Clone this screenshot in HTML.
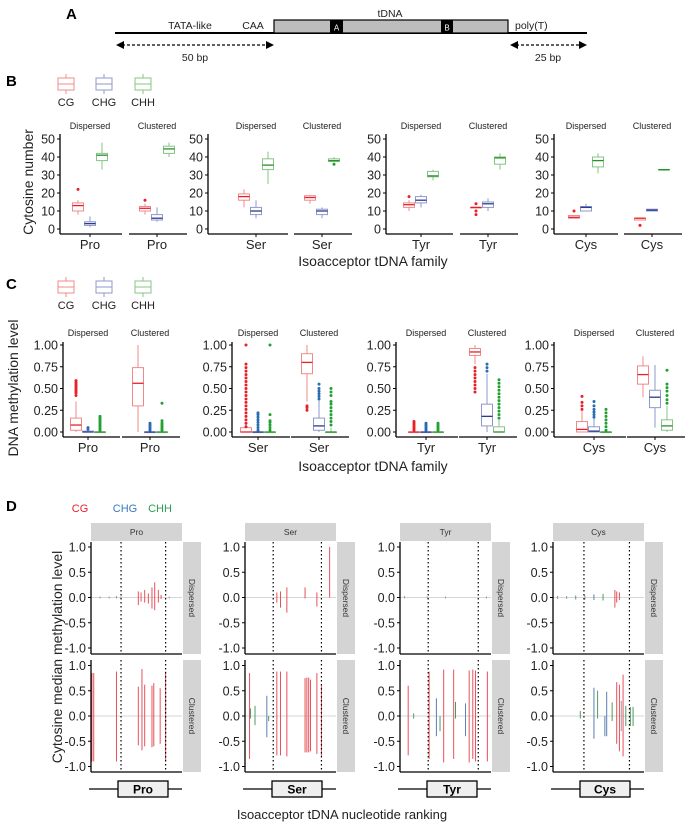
<!DOCTYPE html>
<html><head><meta charset="utf-8"><style>
html,body{margin:0;padding:0;background:#fff}
svg{display:block;font-family:"Liberation Sans",sans-serif}
</style></head><body>
<svg id="fig" width="685" height="824" viewBox="0 0 685 824" xmlns="http://www.w3.org/2000/svg">
<g>
<text x="66" y="19" font-size="15" font-weight="bold">A</text>
<line x1="115" y1="33" x2="587" y2="33" stroke="#000" stroke-width="2"/>
<rect x="274" y="20" width="234" height="13" fill="#bdbdbd" stroke="#000" stroke-width="1.2"/>
<rect x="330" y="20" width="13" height="13" fill="#000"/>
<text x="336.5" y="30.5" font-size="8" fill="#fff" text-anchor="middle">A</text>
<rect x="441" y="20" width="12" height="13" fill="#000"/>
<text x="447" y="30.5" font-size="8" fill="#fff" text-anchor="middle">B</text>
<text x="390" y="17" font-size="10.5" text-anchor="middle" fill="#222">tDNA</text>
<text x="190" y="29" font-size="10.5" text-anchor="middle" fill="#222">TATA-like</text>
<text x="253" y="29" font-size="10.5" text-anchor="middle" fill="#222">CAA</text>
<text x="515" y="29" font-size="10.5" fill="#222">poly(T)</text>
<line x1="122" y1="45" x2="268" y2="45" stroke="#000" stroke-width="1.2" stroke-dasharray="3,2"/>
<polygon points="116,45 124,41 124,49" fill="#000"/>
<polygon points="274,45 266,41 266,49" fill="#000"/>
<text x="195" y="61" font-size="10.5" text-anchor="middle" fill="#222">50 bp</text>
<line x1="516" y1="45" x2="581" y2="45" stroke="#000" stroke-width="1.2" stroke-dasharray="3,2"/>
<polygon points="510,45 518,41 518,49" fill="#000"/>
<polygon points="587,45 579,41 579,49" fill="#000"/>
<text x="548" y="61" font-size="10.5" text-anchor="middle" fill="#222">25 bp</text>
</g>
<text x="6" y="86" font-size="15" font-weight="bold">B</text>
<text x="6" y="289" font-size="15" font-weight="bold">C</text>
<text x="6" y="511" font-size="15" font-weight="bold">D</text>
<g id="gB"></g>
<g id="gC"></g>
<g id="gD"></g>
</svg>
<script>
// ---------- data ----------
const families = ["Pro","Ser","Tyr","Cys"];
const panes = ["Dispersed","Clustered"];
const contexts = ["CG","CHG","CHH"];
const ticksB = [0,10,20,30,40,50];
const ticksBLabels = ["0","10","20","30","40","50"];
const ticksC = [0,0.25,0.5,0.75,1.0];
const ticksCLabels = ["0.00","0.25","0.50","0.75","1.00"];
const ticksD = [-1,-0.5,0,0.5,1];
const ticksDLabels = ["-1.0","-0.5","0.0","0.5","1.0"];
// Panel B: order family x pane x context
const bLow  = [8,1,33, 8,4,40, 12,6,25, 14,6,37, 10,12,27, 12,10,33, 6,10,31, 5,10,33];
const bQ1   = [10,2,38, 10,5,42, 16,8,33, 16,8,37.5, 12,14.5,29, 12,12,36, 6,10,34.5, 5,10,33];
const bMed  = [13,3,41, 11.5,6,44.5, 18,10,35.5, 17.5,10,38, 13.5,16,29.5, 12,14,39.5, 6.5,12,38, 6,10.5,33];
const bQ3   = [14.5,4,42, 12.5,8,46, 19.5,12,39, 18.5,11,39, 14.5,18,32, 12,15,40, 7.5,12.5,40, 6,11,33];
const bHigh = [16,7,48, 14,12,48, 22,16,43, 19,12,40, 16,19,33, 12,17,42, 7.5,14,42, 6,11,33];
const bOut  = [[22],[],[], [16],[],[], [],[],[], [],[],[36], [18],[],[], [14,10,8],[],[], [10],[],[], [2],[],[]];
// Panel C
const cLow  = [0,0,0, 0,0,0, 0,0,0, 0.35,0,0, 0,0,0, 0.78,0,0, 0,0,0, 0.4,0.05,0];
const cQ1   = [0.02,0,0, 0.3,0,0, 0,0,0, 0.67,0.02,0, 0,0,0, 0.88,0.07,0, 0,0,0, 0.55,0.28,0.02];
const cMed  = [0.08,0,0, 0.56,0,0, 0,0,0, 0.8,0.07,0, 0,0,0, 0.92,0.18,0, 0.03,0.01,0, 0.66,0.4,0.07];
const cQ3   = [0.16,0.01,0, 0.74,0,0, 0.05,0,0, 0.9,0.16,0, 0,0,0, 0.96,0.32,0.06, 0.12,0.06,0, 0.76,0.48,0.14];
const cHigh = [0.35,0.02,0, 1.0,0,0, 0.1,0,0, 1.0,0.36,0.05, 0,0,0, 1.0,0.67,0.14, 0.24,0.15,0, 0.87,0.77,0.3];
const cOut  = [
 [0.42,0.45,0.47,0.49,0.51,0.53,0.55,0.57,0.59],[0.03,0.05],[0.02,0.04,0.06,0.08,0.1,0.12,0.14,0.16,0.18],
 [],[0.02,0.04,0.06,0.08,0.1],[0.02,0.04,0.06,0.08,0.1,0.13,0.33],
 [0.06,0.1,0.14,0.18,0.22,0.26,0.3,0.34,0.38,0.42,0.46,0.5,0.54,0.58,0.62,0.66,0.7,0.74,0.78,1.0],[0.02,0.05,0.08,0.11,0.14,0.17,0.2,0.22],[0.02,0.05,0.08,0.11,0.13,0.2,1.0],
 [0.25,0.28,0.3],[0.38,0.41,0.44,0.47,0.5,0.55],[0.08,0.12,0.16,0.2,0.24,0.28,0.32,0.35,0.42,0.46,0.5],
 [0.02,0.04,0.06,0.08,0.1,0.12],[0.02,0.04,0.06,0.08,0.1],[0.02,0.04,0.06,0.08,0.1],
 [0.46,0.5,0.54,0.58,0.62,0.66,0.7,0.74],[0.7,0.74,0.78],[0.16,0.2,0.24,0.28,0.32,0.36,0.4,0.44,0.48,0.52,0.56,0.6],
 [0.26,0.3,0.34,0.41],[0.17,0.2,0.23,0.26,0.3,0.35],[0.02,0.06,0.1,0.14,0.18,0.22,0.26],
 [],[],[0.33,0.37,0.42,0.47,0.51,0.55,0.71]];
// Panel D spikes: panel index = family*2 + row (0 dispersed,1 clustered), position 0-100
const dPanel = [0,0,0,0,0,0,0,0, 0,0,0,0,0,
 1,1,1,1,1,1,1,1,1,1,
 2,2,2,2,2,2,
 3,3,3,3,3,3,3,3,3,3,3,3,3,3,
 4,4,4,4,
 5,5,5,5,5,5,5,5,5,5,5,5,5,
 6,6,6,6,6,6,6,6,6,
 7,7,7,7,7,7,7,7,7,7,7,7,7];
const dPos  = [52,55,59,63,67,70,74,77, 10,20,28,33,86,
 1,3,28,52,56,59,67,69,76,82,
 35,39,46,66,79,93,
 5,6,11,24,26,35,39,46,66,68,70,72,79,84,
 5,30,50,95,
 9,32,40,44,48,59,61,72,76,80,83,96,15,
 5,15,25,35,45,55,68,70,73,
 30,45,49,59,57,65,70,73,75,77,80,85,88];
const dUp   = [0.12,0.1,0.15,0.08,0.2,0.3,0.15,0.05, 0.02,0.02,0.03,0.02,0.02,
 0.85,0.85,0.88,0.58,0.93,0.62,0.6,0.65,0.55,0.88,
 0.1,0.12,0.2,0.2,0.1,1.0,
 0.85,0.15,0.2,0.4,0.0,0.88,0.88,0.88,0.75,0.76,0.76,0.72,0.85,0.6,
 0.03,0.02,0.02,0.02,
 0.6,0.88,0.35,0.0,0.92,0.92,0.28,0.25,0.9,0.92,0.9,0.88,0.05,
 0.03,0.03,0.04,0.05,0.06,0.07,0.15,0.12,0.1,
 0.1,0.56,0.5,0.48,0.0,0.27,0.67,0.62,0.3,0.82,0.2,0.18,0.18];
const dDown = [-0.15,-0.08,-0.1,-0.12,-0.22,-0.25,-0.1,-0.03, -0.02,-0.02,-0.02,-0.03,-0.02,
 -0.9,-0.9,-0.9,-0.58,-0.68,-0.6,-0.62,-0.6,-0.55,-0.9,
 -0.1,-0.2,-0.3,-0.02,-0.18,0,
 -0.85,-0.05,-0.18,-0.42,-0.1,-0.78,-0.78,-0.8,-0.72,-0.72,-0.72,-0.7,-0.75,-0.8,
 -0.02,-0.02,-0.02,-0.02,
 -0.78,-0.85,-0.4,-0.3,-0.92,-0.85,-0.05,-0.4,-0.92,-0.85,-0.9,-0.9,-0.05,
 -0.03,-0.03,-0.04,-0.05,-0.05,-0.06,-0.2,-0.1,-0.05,
 -0.05,-0.45,-0.05,-0.4,-0.4,-0.1,-0.55,-0.7,-0.3,-0.8,-0.2,-0.2,-0.2];
const dCtx  = [0,0,0,0,0,0,0,0, 3,3,3,3,3,
 0,0,0,0,0,0,0,0,0,0,
 0,0,0,0,0,0,
 0,2,2,1,2,0,0,0,0,0,0,0,0,0,
 3,3,3,3,
 0,0,1,2,0,0,2,1,0,0,0,0,2,
 3,3,2,3,1,2,0,0,0,
 2,1,2,1,1,2,0,0,3,0,2,2,2];
// tDNA boundary positions (percent of ranking axis) per family
const dBoundStart = [33,31,31,34];
const dBoundEnd = [82,84,86,84];

// ---------- layout ----------
const NS="http://www.w3.org/2000/svg";
function mk(parent,tag,attrs,text){const e=document.createElementNS(NS,tag);for(const k in attrs)e.setAttribute(k,attrs[k]);if(text!==undefined)e.textContent=text;parent.appendChild(e);return e;}
const boxStroke=["#f08a8a","#8f98cc","#86c486"];
const medStroke=["#e8202a","#2b3a8f","#2a8f2a"];
const outFill=["#e8202a","#2a6cb0","#22a032"];
const spikeCol=["#e8505a","#5a7fb0","#4f9a5f","#9a9a9a"];

function legend(g,y){
  const xs=[66,104,143];
  contexts.forEach((c,i)=>{
    const x=xs[i];
    const lg=mk(g,"g",{});
    
    
    mk(lg,"line",{x1:x,y1:y-10,x2:x,y2:y+10,stroke:boxStroke[i],"stroke-width":1});
    mk(lg,"rect",{x:x-8,y:y-6,width:16,height:12,fill:"#fff",stroke:boxStroke[i],"stroke-width":1});
    mk(lg,"line",{x1:x-8,y1:y,x2:x+8,y2:y,stroke:boxStroke[i],"stroke-width":1});
    mk(lg,"text",{x:x,y:y+22,"font-size":11,"text-anchor":"middle",fill:"#222"},c);
  });
}

function boxPanel(gid,centers,yScale,ticks,tickLabels,low,q1,med,q3,high,out,axisY,topY,titleText,titleX,titleY,xTitleY,legendY,stripY,axisOffsets){
  const g=document.getElementById(gid);
  legend(g,legendY);
  families.forEach((f,fi)=>{
    const ax=centers[fi][0]-axisOffsets[fi];
    const yAxis=mk(g,"g",{});
    
    
    mk(yAxis,"line",{x1:ax,y1:topY,x2:ax,y2:axisY,stroke:"#000","stroke-width":1.3});
    ticks.forEach((t,ti)=>{const y=yScale(t);
      mk(yAxis,"line",{x1:ax-3,y1:y,x2:ax,y2:y,stroke:"#000","stroke-width":1});
      mk(yAxis,"text",{x:ax-5,y:y+4.5,"font-size":12.5,"text-anchor":"end",fill:"#222"},tickLabels[ti]);});
    panes.forEach((p,pi)=>{
      const cx=centers[fi][pi];
      const left=pi===0?ax:cx-28, right=pi===0?cx+32:cx+30;
      const xa=mk(g,"line",{x1:left,y1:axisY,x2:right,y2:axisY,stroke:"#000","stroke-width":1.3});
      
      
      mk(g,"line",{x1:cx,y1:axisY,x2:cx,y2:axisY+3,stroke:"#000"});
      const st=mk(g,"text",{x:cx,y:stripY,"font-size":9,"text-anchor":"middle",fill:"#222"},p);
      
      
      const xl=mk(g,"text",{x:cx,y:axisY+15,"font-size":13,"text-anchor":"middle",fill:"#222"},f);
      
      
      contexts.forEach((c,ci)=>{
        const k=fi*6+pi*3+ci;
        const bx=cx+(ci-1)*12;
        const bg=mk(g,"g",{});
        
        
        mk(bg,"line",{x1:bx,y1:yScale(low[k]),x2:bx,y2:yScale(q1[k]),stroke:boxStroke[ci],"stroke-width":1});
        mk(bg,"line",{x1:bx,y1:yScale(q3[k]),x2:bx,y2:yScale(high[k]),stroke:boxStroke[ci],"stroke-width":1});
        const h=Math.max(0.6,yScale(q1[k])-yScale(q3[k]));
        mk(bg,"rect",{x:bx-5.5,y:yScale(q3[k]),width:11,height:h,fill:"#fff",stroke:boxStroke[ci],"stroke-width":1});
        mk(bg,"line",{x1:bx-5.5,y1:yScale(med[k]),x2:bx+5.5,y2:yScale(med[k]),stroke:medStroke[ci],"stroke-width":1.3});
        out[k].forEach(v=>{mk(bg,"circle",{cx:bx,cy:yScale(v),r:1.5,fill:outFill[ci]});});
      });
    });
  });
  const yt=mk(g,"text",{x:titleX,y:titleY,"font-size":14,"text-anchor":"middle",fill:"#222",transform:`rotate(-90 ${titleX} ${titleY})`},titleText);
  
  
  const xt=mk(g,"text",{x:373,y:xTitleY,"font-size":14,"text-anchor":"middle",fill:"#222"},"Isoacceptor tDNA family");
  
  
}

const yB=v=>229-v*1.8;
boxPanel("gB",[[90,157],[256,322],[421,488],[586,652]],yB,ticksB,ticksBLabels,bLow,bQ1,bMed,bQ3,bHigh,bOut,234,134,"Cytosine number",33,182,266,84,129,[30,48,35,32]);
const yC=v=>432-v*87;
boxPanel("gC",[[88,150],[258,319],[426,487],[594,655]],yC,ticksC,ticksCLabels,cLow,cQ1,cMed,cQ3,cHigh,cOut,437,342,"DNA methylation level",18,388,471,287,336,[25,26,30,40]);

// ---------- panel D ----------
(function(){
  const g=document.getElementById("gD");
  const ctxCols=["#e8202a","#3a78c0","#2aa050"];
  [["CG",80],["CHG",125],["CHH",160]].forEach((d,i)=>{
    const t=mk(g,"text",{x:d[1],y:512,"font-size":11,"text-anchor":"middle",fill:ctxCols[i]},d[0]);
    
    
  });
  const x0s=[91,245,400,553], W=91;
  const rowTop=[542,660], rowH=112;
  const yD=(r,v)=>(r===0?597.5:716)-v*50.5;
  families.forEach((f,fi)=>{
    const x0=x0s[fi];
    const s=mk(g,"rect",{x:x0,y:523,width:W,height:18,fill:"#d4d4d4"});
    
    
    mk(g,"text",{x:x0+W/2,y:535,"font-size":8.5,"text-anchor":"middle",fill:"#333"},f);
    [0,1].forEach(r=>{
      const top=rowTop[r];
      const rs=mk(g,"rect",{x:x0+W+1,y:top,width:18,height:rowH,fill:"#d4d4d4"});
      
      
      const tx=x0+W+10,ty=top+rowH/2;
      mk(g,"text",{x:tx,y:ty+3,"font-size":8.5,"text-anchor":"middle",fill:"#333",transform:`rotate(90 ${tx} ${ty})`},r===0?"Dispersed":"Clustered");
      mk(g,"line",{x1:x0,y1:yD(r,0),x2:x0+W,y2:yD(r,0),stroke:"#c8c8c8","stroke-width":0.8});
      const k=fi*2+r;
      dPanel.forEach((p,i)=>{
        if(p!==k)return;
        const x=x0+dPos[i]/100*W;
        const sp=mk(g,"line",{x1:x,y1:yD(r,dUp[i]),x2:x,y2:yD(r,dDown[i]),stroke:spikeCol[dCtx[i]],"stroke-width":1});
        
        
      });
      [dBoundStart[fi],dBoundEnd[fi]].forEach(d=>{
        const x=x0+d/100*W;
        const dl=mk(g,"line",{x1:x,y1:top,x2:x,y2:top+rowH,stroke:"#000","stroke-width":1.2,"stroke-dasharray":"1.5,2.5"});
        
        
      });
      const ax=mk(g,"g",{});
      
      
      mk(ax,"line",{x1:x0,y1:top,x2:x0,y2:top+rowH,stroke:"#000","stroke-width":1.3});
      mk(ax,"line",{x1:x0,y1:top+rowH,x2:x0+W,y2:top+rowH,stroke:"#000","stroke-width":1.3});
      ticksD.forEach((t,ti)=>{const y=yD(r,t);
        mk(ax,"line",{x1:x0-3,y1:y,x2:x0,y2:y,stroke:"#000"});
        mk(ax,"text",{x:x0-5,y:y+4.5,"font-size":12.5,"text-anchor":"end",fill:"#222"},ticksDLabels[ti]);});
    });
    const gd=mk(g,"g",{});
    
    
    mk(gd,"line",{x1:x0-2,y1:789,x2:x0+W,y2:789,stroke:"#000","stroke-width":1.3});
    mk(gd,"rect",{x:x0+27,y:781,width:50,height:16,fill:"#efefef",stroke:"#000","stroke-width":1.3});
    mk(gd,"text",{x:x0+52,y:793.5,"font-size":12,"font-weight":"bold","text-anchor":"middle",fill:"#000"},f);
  });
  const yt=mk(g,"text",{x:62,y:657,"font-size":14,"text-anchor":"middle",fill:"#222",transform:"rotate(-90 62 657)"},"Cytosine median methylation level");
  
  
  const xt=mk(g,"text",{x:342,y:819,"font-size":13,"text-anchor":"middle",fill:"#222"},"Isoacceptor tDNA nucleotide ranking");
  
  
})();
</script>
</body></html>
